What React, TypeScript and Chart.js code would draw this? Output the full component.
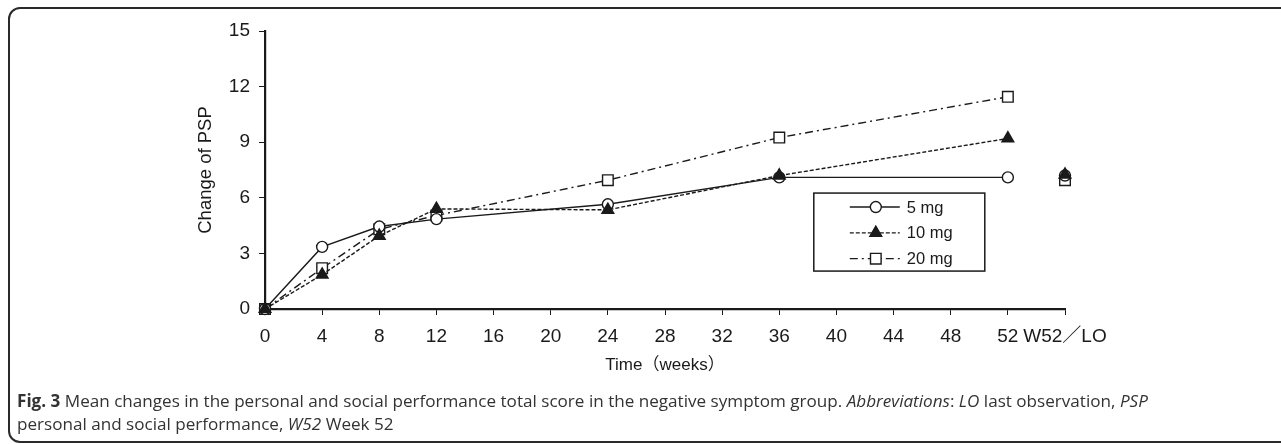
import React, { useEffect, useRef } from "react";
import { Chart, registerables } from "chart.js";
import { drawPoint } from "chart.js/helpers";

Chart.register(...registerables);

// ---- data ----
const weeks = [0, 4, 8, 12, 24, 36, 52];
const gapWeek = 54;
const lastObsWeek = 56;
const seriesLabels = ["5 mg", "10 mg", "20 mg"];
const change5mg = [0, 3.35, 4.45, 4.85, 5.65, 7.1, 7.1];
const change10mg = [0, 1.85, 3.95, 5.4, 5.35, 7.2, 9.2];
const change20mg = [0, 2.2, 4.3, 5.05, 6.95, 9.25, 11.45];
const lastObs = [7.2, 7.25, 6.95];
const xTickValues = [0, 4, 8, 12, 16, 20, 24, 28, 32, 36, 40, 44, 48, 52, 56];
const xTickLabels = ["0", "4", "8", "12", "16", "20", "24", "28", "32", "36", "40", "44", "48", "52", "W52／LO"];
const yTickValues = [0, 3, 6, 9, 12, 15];
const xTitle = "Time（weeks）";
const yTitle = "Change of PSP";

const seriesValues = [change5mg, change10mg, change20mg];

const INK = "#1a1a1a";
const TICK_FONT = "'Liberation Sans', Arial, 'Noto Sans CJK JP', sans-serif";

const styles = [
  { pointStyle: "circle", radius: 5.5, fill: "#ffffff", dash: [] as number[], order: 1 },
  { pointStyle: "triangle", radius: 6.8, fill: INK, dash: [4, 2], order: 0 },
  { pointStyle: "rect", radius: 7.5, fill: "#ffffff", dash: [8, 4, 2, 4], order: 2 },
];

const legendPlugin = {
  id: "boxLegend",
  afterDatasetsDraw(chart: any) {
    const ca = chart.chartArea;
    const ctx: CanvasRenderingContext2D = chart.ctx;
    const bx = ca.left + (ca.right - ca.left) * 0.686;
    const by = ca.top + (ca.bottom - ca.top) * 0.583;
    const bw = 171;
    const bh = 78;
    ctx.save();
    ctx.fillStyle = "#ffffff";
    ctx.fillRect(bx, by, bw, bh);
    ctx.setLineDash([]);
    ctx.strokeStyle = INK;
    ctx.lineWidth = 1.5;
    ctx.strokeRect(bx, by, bw, bh);
    chart.data.datasets.forEach((ds: any, i: number) => {
      const y = by + 14 + i * 25.8;
      ctx.setLineDash(ds.borderDash || []);
      ctx.lineWidth = 1.4;
      ctx.strokeStyle = INK;
      ctx.beginPath();
      ctx.moveTo(bx + 36, y);
      ctx.lineTo(bx + 86, y);
      ctx.stroke();
      ctx.setLineDash([]);
      ctx.fillStyle = ds.pointBackgroundColor;
      ctx.strokeStyle = INK;
      ctx.lineWidth = 1.4;
      drawPoint(ctx, { pointStyle: ds.pointStyle, rotation: 0, radius: ds.pointRadius, borderWidth: 1.4 } as any, bx + 62, y);
      ctx.fillStyle = INK;
      ctx.font = `16.5px ${TICK_FONT}`;
      ctx.textAlign = "left";
      ctx.textBaseline = "middle";
      ctx.fillText(ds.label, bx + 93, y + 1);
    });
    ctx.restore();
  },
};

function App() {
  const canvasRef = useRef<HTMLCanvasElement | null>(null);

  useEffect(() => {
    if (!canvasRef.current) return;
    const datasets = seriesLabels.map((label, i) => {
      const st = styles[i];
      const pts: { x: number; y: number | null }[] = weeks.map((w, j) => ({ x: w, y: seriesValues[i][j] }));
      pts.push({ x: gapWeek, y: null });
      pts.push({ x: lastObsWeek, y: lastObs[i] });
      return {
        label,
        data: pts,
        borderColor: INK,
        borderWidth: 1.4,
        borderDash: st.dash,
        pointStyle: st.pointStyle,
        pointRadius: st.radius,
        pointBackgroundColor: st.fill,
        pointBorderColor: INK,
        pointBorderWidth: 1.4,
        fill: false,
        tension: 0,
        spanGaps: false,
        clip: false,
        order: st.order,
      };
    });

    const chart = new Chart(canvasRef.current, {
      type: "line",
      data: { datasets: datasets as any },
      plugins: [legendPlugin as any],
      options: {
        animation: false,
        responsive: false,
        events: [],
        layout: { padding: { left: 195, top: 31, right: 216, bottom: 0 } },
        plugins: { legend: { display: false }, tooltip: { enabled: false } },
        scales: {
          x: {
            type: "linear",
            min: 0,
            max: 56,
            afterFit: (s: any) => { s.height = 81; },
            afterBuildTicks: (s: any) => { s.ticks = xTickValues.map((v) => ({ value: v })); },
            ticks: {
              color: INK,
              font: { family: TICK_FONT, size: 19 },
              padding: 10,
              maxRotation: 0,
              autoSkip: false,
              callback: (v: any) => {
                const k = xTickValues.indexOf(Number(v));
                return k >= 0 ? xTickLabels[k] : "";
              },
            },
            grid: { drawOnChartArea: false, drawTicks: true, tickLength: 6, color: INK, lineWidth: 1 },
            border: { display: true, color: INK, width: 2.2 },
            title: {
              display: true,
              text: xTitle,
              color: INK,
              font: { family: TICK_FONT, size: 17 },
              padding: { top: 0, bottom: 14 },
            },
          },
          y: {
            type: "linear",
            min: 0,
            max: 15,
            afterFit: (s: any) => { s.width = 70; },
            afterBuildTicks: (s: any) => { s.ticks = yTickValues.map((v) => ({ value: v })); },
            ticks: {
              color: INK,
              font: { family: TICK_FONT, size: 19 },
              padding: 9,
            },
            grid: { drawOnChartArea: false, drawTicks: true, tickLength: 6, color: INK, lineWidth: 1 },
            border: { display: true, color: INK, width: 2.2 },
            title: {
              display: true,
              text: yTitle,
              color: INK,
              font: { family: TICK_FONT, size: 18.5 },
              padding: { top: 0, bottom: 0 },
            },
          },
        },
      },
    });
    return () => chart.destroy();
  }, []);

  return (
    <div style={{ position: "absolute", left: 0, top: 0, width: 1281, height: 444, overflow: "hidden", background: "#fff" }}>
      <div
        style={{
          position: "absolute",
          left: 8,
          top: 7,
          width: 1320,
          height: 436,
          border: "2px solid #2a2a2a",
          borderRadius: 12,
          boxSizing: "border-box",
        }}
      />
      <canvas ref={canvasRef} width={1281} height={390} style={{ position: "absolute", left: 0, top: 0 }} />
      <div
        style={{
          position: "absolute",
          left: 17,
          top: 389,
          fontFamily: "'Open Sans', 'Noto Sans', sans-serif",
          fontSize: 17.1,
          lineHeight: "23px",
          color: "#333",
          whiteSpace: "nowrap",
        }}
      >
        <div>
          <b>Fig. 3</b> Mean changes in the personal and social performance total score in the negative symptom group.{" "}
          <i>Abbreviations</i>: <i>LO</i> last observation, <i>PSP</i>
        </div>
        <div>
          personal and social performance, <i>W52</i> Week 52
        </div>
      </div>
    </div>
  );
}

export default App;
